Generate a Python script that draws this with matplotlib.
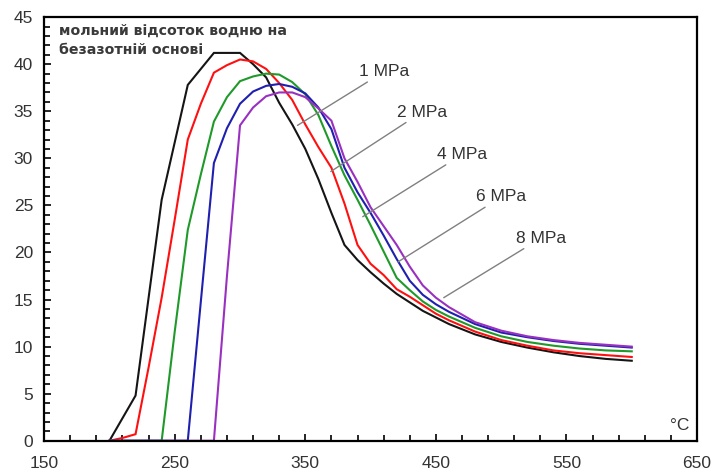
#!/usr/bin python3

# hydrogen mole fraction (nitrogen-free basis) vs temperature, several pressures

import numpy as np
import matplotlib
matplotlib.use("Agg")
import matplotlib.pyplot as plt
from matplotlib.ticker import MultipleLocator

# temperature grid, degC
temp = [200, 210, 220, 230, 240, 250, 260, 270, 280, 290, 300, 310, 320, 330, 340,
        350, 360, 370, 380, 390, 400, 410, 420, 430, 440, 450, 460, 480, 500, 520,
        540, 560, 580, 600]

# mole % of H2 for each pressure
h2_1mpa = [0, 2.4, 4.8, 15.2, 25.6, 31.7, 37.8, 39.5, 41.2, 41.2, 41.2, 40.0, 38.6,
           35.9, 33.6, 31.0, 27.8, 24.2, 20.8, 19.2, 17.9, 16.7, 15.6, 14.7, 13.8,
           13.1, 12.4, 11.3, 10.5, 9.9, 9.4, 9.0, 8.7, 8.5]
h2_2mpa = [0, 0.3, 0.7, 7.8, 15.2, 23.5, 32.0, 35.8, 39.1, 39.9, 40.5, 40.3, 39.5,
           38.0, 36.2, 33.6, 31.2, 29.0, 25.2, 20.8, 18.8, 17.6, 16.1, 15.3, 14.4,
           13.5, 12.8, 11.6, 10.7, 10.1, 9.6, 9.3, 9.1, 8.9]
h2_4mpa = [0, 0, 0, 0, 0, 11.6, 22.4, 28.3, 33.9, 36.5, 38.2, 38.7, 39.0, 38.9, 38.1,
           36.8, 34.6, 31.3, 28.2, 25.6, 22.9, 20.1, 17.3, 16.0, 14.8, 13.9, 13.2,
           12.0, 11.1, 10.5, 10.1, 9.8, 9.6, 9.5]
h2_6mpa = [0, 0, 0, 0, 0, 0, 0, 14.8, 29.5, 33.2, 35.8, 37.1, 37.7, 37.9, 37.6, 36.9,
           35.4, 33.1, 29.0, 26.4, 24.2, 21.8, 19.3, 17.0, 15.5, 14.5, 13.7, 12.4,
           11.5, 11.0, 10.6, 10.3, 10.1, 9.9]
h2_8mpa = [0, 0, 0, 0, 0, 0, 0, 0, 0, 17.5, 33.5, 35.4, 36.6, 37.0, 37.0, 36.5, 35.3,
           34.0, 30.0, 27.5, 24.8, 22.8, 20.8, 18.5, 16.5, 15.2, 14.2, 12.6, 11.7,
           11.1, 10.7, 10.4, 10.2, 10.0]

labels = ["1 MPa", "2 MPa", "4 MPa", "6 MPa", "8 MPa"]
colors = ["#151515", "#ff1010", "#1f9a2a", "#1f1fb0", "#9a30c0"]
x_ticks = [150, 250, 350, 450, 550, 650]

plt.rcParams["font.family"] = ["Liberation Sans", "DejaVu Sans"]

fig = plt.figure(figsize=(7.12, 4.76), dpi=100)
ax = fig.add_axes([0.062, 0.074, 0.917, 0.890])

series = [h2_1mpa, h2_2mpa, h2_4mpa, h2_6mpa, h2_8mpa]
for vals, col in zip(series, colors):
    ax.plot(temp, vals, color=col, lw=1.5, solid_joinstyle="miter")

# leader lines + pressure labels (text pos, point on curve)
label_pos = [(391, 39.2), (420, 34.9), (451, 30.4), (481, 25.9), (511, 21.5)]
curve_pt = [(344, 33.5), (369.5, 28.6), (394, 23.8), (421, 19.0), (456, 15.2)]
for lab, tp, cp in zip(labels, label_pos, curve_pt):
    ax.annotate(lab, xy=cp, xytext=tp, fontsize=12.5, color="#333333",
                ha="left", va="center",
                arrowprops=dict(arrowstyle="-", color="#808080", lw=1.0,
                                shrinkA=0, shrinkB=0))

ax.text(161, 44.3, "мольний відсоток водню на\nбезазотній основі",
        fontsize=10.2, fontweight="bold", color="#3a3a3a", family="DejaVu Sans",
        ha="left", va="top", linespacing=1.45)
ax.text(637, 1.6, "°C", fontsize=12.5, color="#333333", ha="center", va="center")

ax.set_xlim(150, 650)
ax.set_ylim(0, 45)
ax.set_xticks(x_ticks)
ax.set_xticks(np.arange(170, 650, 20), minor=True)
ax.yaxis.set_major_locator(MultipleLocator(5))
ax.yaxis.set_minor_locator(MultipleLocator(1))
ax.tick_params(which="both", direction="in", top=False, right=False,
               labelsize=12.5, labelcolor="#333333", width=1.2)
ax.tick_params(which="major", length=5)
ax.tick_params(axis="x", which="major", pad=11)
ax.tick_params(axis="y", which="major", pad=8)
ax.tick_params(which="minor", length=4)
for sp in ax.spines.values():
    sp.set_linewidth(1.6)

fig.savefig("out.png", dpi=100)
